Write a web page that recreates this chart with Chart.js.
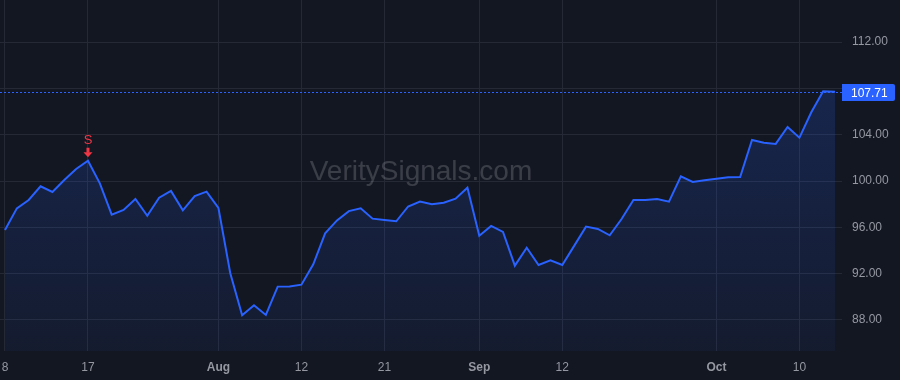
<!DOCTYPE html>
<html>
<head>
<meta charset="utf-8">
<script src="https://cdn.jsdelivr.net/npm/chart.js@4/dist/chart.umd.min.js"></script>
<style>
  html, body { margin: 0; padding: 0; background: #131722; }
  #wrap { width: 900px; height: 380px; position: relative; }
</style>
</head>
<body>
<div id="wrap"><canvas id="chart"></canvas></div>
<script>
// trading days, Jul 8 - Oct 15 2024
const dates = [
  'Jul 8','Jul 9','Jul 10','Jul 11','Jul 12','Jul 15','Jul 16','Jul 17','Jul 18','Jul 19',
  'Jul 22','Jul 23','Jul 24','Jul 25','Jul 26','Jul 29','Jul 30','Jul 31','Aug 1','Aug 2',
  'Aug 5','Aug 6','Aug 7','Aug 8','Aug 9','Aug 12','Aug 13','Aug 14','Aug 15','Aug 16',
  'Aug 19','Aug 20','Aug 21','Aug 22','Aug 23','Aug 26','Aug 27','Aug 28','Aug 29','Aug 30',
  'Sep 3','Sep 4','Sep 5','Sep 6','Sep 9','Sep 10','Sep 11','Sep 12','Sep 13','Sep 16',
  'Sep 17','Sep 18','Sep 19','Sep 20','Sep 23','Sep 24','Sep 25','Sep 26','Sep 27','Sep 30',
  'Oct 1','Oct 2','Oct 3','Oct 4','Oct 7','Oct 8','Oct 9','Oct 10','Oct 11','Oct 14',
  'Oct 15'
]
const closes = [
  95.77, 97.64, 98.36, 99.54, 99.05, 100.09, 101.04, 101.75, 99.8, 97.1,
  97.5, 98.45, 97.0, 98.56, 99.14, 97.47, 98.7, 99.08, 97.68, 92.03,
  88.4, 89.27, 88.43, 90.88, 90.9, 91.05, 92.8, 95.48, 96.6, 97.4,
  97.64, 96.75, 96.63, 96.52, 97.8, 98.22, 98.0, 98.13, 98.47, 99.42,
  95.27, 96.12, 95.6, 92.69, 94.24, 92.75, 93.15, 92.75, 94.4, 96.06,
  95.86, 95.31, 96.72, 98.36, 98.36, 98.45, 98.22, 100.4, 99.92, 100.06,
  100.2, 100.32, 100.35, 103.54, 103.31, 103.2, 104.66, 103.74, 105.93, 107.75,
  107.71
]
// x tick labels and where they sit (index into dates)
const xTickIdx = [0, 7, 18, 25, 32, 40, 47, 60, 67]
const xTickText = ['8', '17', 'Aug', '12', '21', 'Sep', '12', 'Oct', '10']
const monthTicks = ['Aug', 'Sep', 'Oct']
const yTicks = [88, 92, 96, 100, 104, 108, 112]
const signals = [{ index: 7, label: 'S' }]
const lastPrice = 107.71

const BLUE = '#2962ff'
const RED = '#f23645'
const GRID = '#252936'
const TEXT = '#9598a1'
const FONT = "'Liberation Sans', Arial, sans-serif"

const decor = {
  id: 'decor',
  beforeDraw(chart) {
    const c = chart.ctx
    c.save()
    c.fillStyle = '#131722'
    c.fillRect(0, 0, chart.width, chart.height)
    c.restore()
  },
  beforeDatasetsDraw(chart) {
    const c = chart.ctx
    c.save()
    c.font = '28px ' + FONT
    c.fillStyle = 'rgba(255,255,255,0.17)'
    c.textAlign = 'center'
    c.textBaseline = 'middle'
    c.fillText('VeritySignals.com', 421, 172)
    c.restore()
  },
  afterDatasetsDraw(chart) {
    const c = chart.ctx
    const x = chart.scales.x, y = chart.scales.y
    const area = chart.chartArea
    const py = Math.round(y.getPixelForValue(lastPrice)) + 0.5
    c.save()
    c.strokeStyle = BLUE
    c.lineWidth = 1
    c.setLineDash([2, 2])
    c.beginPath()
    c.moveTo(area.left, py)
    c.lineTo(area.right, py)
    c.stroke()
    c.setLineDash([])
    c.fillStyle = BLUE
    c.beginPath()
    c.roundRect(area.right, py - 8.5, 53, 17, [0, 2, 2, 0])
    c.fill()
    c.fillStyle = '#ffffff'
    c.font = '12px ' + FONT
    c.textAlign = 'left'
    c.textBaseline = 'middle'
    c.fillText(lastPrice.toFixed(2), area.right + 9, py + 1)

    signals.forEach(s => {
      const sx = x.getPixelForValue(s.index)
      const sy = y.getPixelForValue(closes[s.index])
      c.fillStyle = RED
      c.font = '13px ' + FONT
      c.textAlign = 'center'
      c.textBaseline = 'middle'
      c.fillText(s.label, sx, sy - 20)
      // down arrow
      c.fillRect(sx - 1.5, sy - 13, 3, 5)
      c.beginPath()
      c.moveTo(sx - 4.5, sy - 8.5)
      c.lineTo(sx + 4.5, sy - 8.5)
      c.lineTo(sx, sy - 3.5)
      c.closePath()
      c.fill()
    })
    c.restore()
  }
}

new Chart(document.getElementById('chart'), {
  type: 'line',
  data: {
    labels: dates,
    datasets: [{
      data: closes.map((v, i) => ({ x: i, y: v })),
      borderColor: BLUE,
      borderWidth: 2,
      pointRadius: 0,
      tension: 0,
      fill: 'start',
      backgroundColor: (ctx) => {
        const a = ctx.chart.chartArea
        if (!a) return 'rgba(41,98,255,0.12)'
        const g = ctx.chart.ctx.createLinearGradient(0, a.top + 80, 0, a.bottom)
        g.addColorStop(0, 'rgba(41,98,255,0.20)')
        g.addColorStop(1, 'rgba(41,98,255,0.06)')
        return g
      }
    }]
  },
  options: {
    responsive: true,
    maintainAspectRatio: false,
    animation: false,
    layout: { padding: 0 },
    plugins: { legend: { display: false }, tooltip: { enabled: false } },
    scales: {
      x: {
        type: 'linear',
        min: -0.42,
        max: 70.59,
        afterBuildTicks: (axis) => { axis.ticks = xTickIdx.map(v => ({ value: v })) },
        afterFit: (axis) => {
          axis.height = 29
          axis.paddingLeft = 0
          axis.paddingRight = 0
        },
        grid: { color: GRID, drawTicks: false },
        border: { display: false },
        ticks: {
          padding: 9,
          color: TEXT,
          maxRotation: 0,
          autoSkip: false,
          font: (ctx) => {
            const t = xTickText[xTickIdx.indexOf(ctx.tick && ctx.tick.value)]
            return { family: FONT, size: 12, weight: monthTicks.includes(t) ? 'bold' : 'normal' }
          },
          callback: (v) => xTickText[xTickIdx.indexOf(v)]
        }
      },
      y: {
        position: 'right',
        min: 85.32,
        max: 115.63,
        afterBuildTicks: (axis) => { axis.ticks = yTicks.map(v => ({ value: v })) },
        afterFit: (axis) => {
          axis.width = 58
          axis.paddingTop = 0
          axis.paddingBottom = 0
        },
        grid: { color: GRID, drawTicks: false },
        border: { display: false },
        ticks: {
          padding: 10,
          color: TEXT,
          font: { family: FONT, size: 12 },
          callback: (v) => v === 108 ? '' : v.toFixed(2)
        }
      }
    }
  },
  plugins: [decor]
})
</script>
</body>
</html>
